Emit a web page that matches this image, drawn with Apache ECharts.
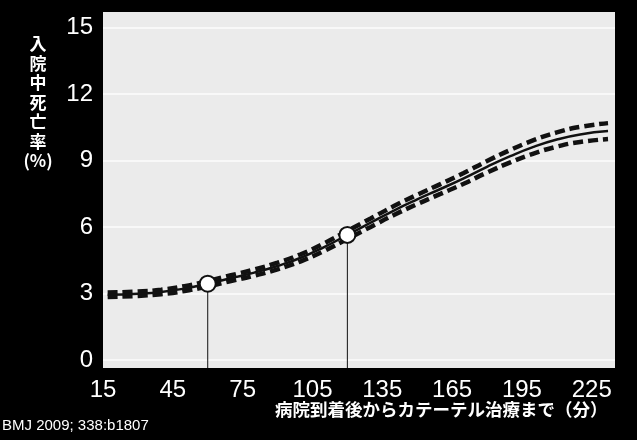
<!DOCTYPE html>
<html>
<head>
<meta charset="utf-8">
<script src="https://cdn.jsdelivr.net/npm/echarts@6/dist/echarts.min.js"></script>
<style>
  html, body { margin: 0; padding: 0; background: #000; }
  #chart { width: 637px; height: 440px; }
</style>
</head>
<body>
<div id="chart"></div>
<script>
// minutes from hospital arrival to catheter treatment
var minutes = [17, 30, 40, 50, 60, 70, 80, 90, 100, 110, 120, 130, 140, 150, 160, 170, 180, 190, 200, 210, 220, 232];
var mortality = [2.95, 3.00, 3.08, 3.23, 3.45, 3.70, 3.95, 4.25, 4.62, 5.10, 5.65, 6.20, 6.75, 7.25, 7.72, 8.20, 8.72, 9.20, 9.62, 9.95, 10.18, 10.33];
var upperCI = [3.05, 3.10, 3.18, 3.34, 3.57, 3.83, 4.09, 4.40, 4.78, 5.27, 5.83, 6.39, 6.95, 7.46, 7.94, 8.44, 8.98, 9.48, 9.92, 10.27, 10.52, 10.69];
var lowerCI = [2.85, 2.90, 2.98, 3.12, 3.33, 3.57, 3.81, 4.10, 4.46, 4.93, 5.47, 6.01, 6.55, 7.04, 7.50, 7.96, 8.46, 8.92, 9.32, 9.63, 9.84, 9.97];
var markX = [60, 120];
var markY = [3.45, 5.65];
var xTicks = [15, 45, 75, 105, 135, 165, 195, 225];
var yTicks = [0, 3, 6, 9, 12, 15];
var xMin = 15, xMax = 235, yMin = -0.35, yMax = 15.7;

function pairs(xs, ys) {
  var out = [];
  for (var i = 0; i < xs.length; i++) out.push([xs[i], ys[i]]);
  return out;
}

var myChart = echarts.init(document.getElementById('chart'));

var series = [
  {
    type: 'line', data: pairs(minutes, upperCI), smooth: true, showSymbol: false,
    lineStyle: { color: '#111', width: 4.5, type: [10, 5] }, z: 2
  },
  {
    type: 'line', data: pairs(minutes, lowerCI), smooth: true, showSymbol: false,
    lineStyle: { color: '#111', width: 4.5, type: [10, 5] }, z: 2
  },
  {
    type: 'line', data: pairs(minutes, mortality), smooth: true, showSymbol: false,
    lineStyle: { color: '#111', width: 2.5 }, z: 3
  }
];
markX.forEach(function (mx, i) {
  series.push({
    type: 'line', data: [[mx, yMin], [mx, markY[i]]], showSymbol: false,
    lineStyle: { color: '#111', width: 1 }, z: 4
  });
});
series.push({
  type: 'scatter', data: pairs(markX, markY), symbol: 'circle', symbolSize: 16,
  itemStyle: { color: '#fff', borderColor: '#111', borderWidth: 2, opacity: 1 }, z: 5
});

myChart.setOption({
  backgroundColor: '#000',
  animation: false,
  grid: { left: 103, right: 22, top: 12, bottom: 72, show: true, backgroundColor: '#ebebeb', borderWidth: 0 },
  xAxis: {
    type: 'value', min: xMin, max: xMax,
    axisLine: { show: false },
    axisTick: { show: false, customValues: xTicks },
    splitLine: { show: false },
    axisLabel: {
      customValues: xTicks, color: '#fff', fontSize: 24, margin: 10,
      fontFamily: 'Liberation Sans'
    }
  },
  yAxis: {
    type: 'value', min: yMin, max: yMax,
    axisLine: { show: false },
    axisTick: { show: false, customValues: yTicks },
    splitLine: { show: true, lineStyle: { color: '#f8f8f8', width: 2 } },
    axisLabel: {
      customValues: yTicks, color: '#fff', fontSize: 24, margin: 10,
      fontFamily: 'Liberation Sans'
    }
  },
  graphic: [
    {
      type: 'text', x: 38, y: 34,
      style: {
        text: '入\n院\n中\n死\n亡\n率\n(%)', fill: '#fff', fontSize: 17, lineHeight: 19.5,
        fontFamily: 'Noto Sans CJK JP', fontWeight: 'bold', align: 'center', verticalAlign: 'top'
      }
    },
    {
      type: 'text', x: 275, y: 401,
      style: {
        text: '病院到着後からカテーテル治療まで（分）', fill: '#fff', fontSize: 17.5,
        fontFamily: 'Noto Sans CJK JP', fontWeight: 'bold', verticalAlign: 'top'
      }
    },
    {
      type: 'text', x: 2, y: 418,
      style: { text: 'BMJ 2009; 338:b1807', fill: '#fff', fontSize: 15, fontFamily: 'Liberation Sans', verticalAlign: 'top' }
    }
  ],
  series: series
});
</script>
</body>
</html>
